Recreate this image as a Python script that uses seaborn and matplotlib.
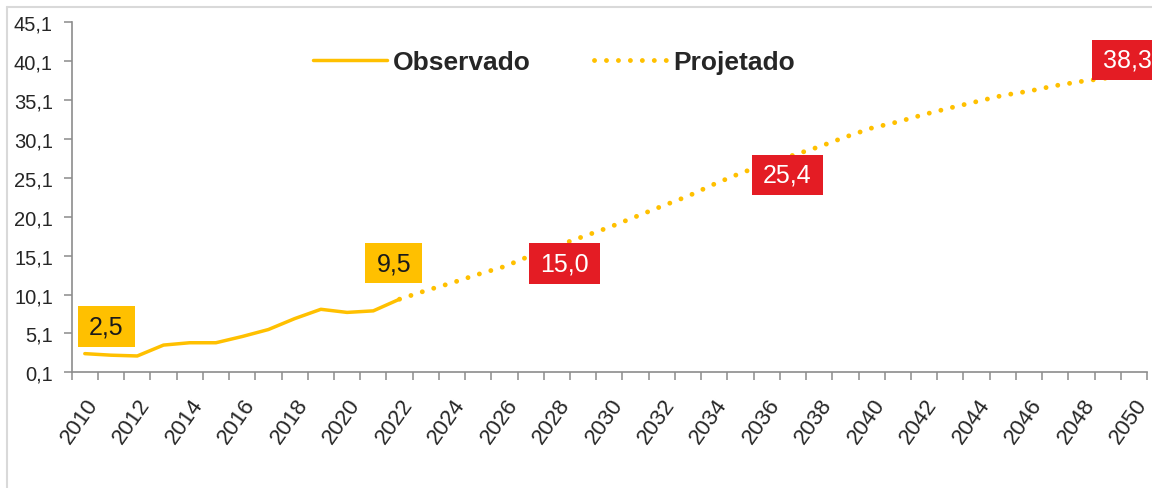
import numpy as np
import matplotlib
matplotlib.use('Agg')
import matplotlib.pyplot as plt
from matplotlib.path import Path
from matplotlib.lines import Line2D
from matplotlib.transforms import ScaledTranslation
import seaborn as sns

# observed series (2010-2022)
obs_years = list(range(2010, 2023))
obs_values = [2.5, 2.3, 2.2, 3.6, 3.9, 3.9, 4.7, 5.6, 7.0, 8.2, 7.8, 8.0, 9.5]

# projected series (2022-2050)
proj_years = list(range(2022, 2051))
proj_values = [9.5, 10.6, 11.6, 12.7, 13.7, 15.1, 16.35, 17.55, 18.75, 20.1,
               21.45, 22.75, 24.3, 25.7, 26.9, 28.0, 29.1, 30.35, 31.5, 32.3,
               33.25, 34.1, 34.9, 35.7, 36.25, 36.95, 37.5, 37.95, 38.3]

# highlighted values
label_years = [2010, 2022, 2028, 2037, 2050]
label_values = [2.5, 9.5, 15.0, 25.4, 38.3]
label_texts = ['2,5', '9,5', '15,0', '25,4', '38,3']
label_kinds = ['obs', 'obs', 'proj', 'proj', 'proj']

y_ticks = [0.1, 5.1, 10.1, 15.1, 20.1, 25.1, 30.1, 35.1, 40.1, 45.1]
x_label_years = list(range(2010, 2051, 2))

YELLOW = '#FFC000'
RED = '#E41C24'
GREY = '#8C8C8C'

# offsets (points) of the label boxes from their points
label_offsets = [(15.5, 19.5), (-4.2, 25.9), (5.3, -5.0), (-4.1, 0.4), (-4.9, 11.1)]


def label_box(x0, y0, width, height, mutation_size):
    # rectangle with more padding left/right than top/bottom, like Excel labels
    px = 0.44 * mutation_size
    py = 0.33 * mutation_size
    return Path([(x0 - px, y0 - py), (x0 + width + px, y0 - py),
                 (x0 + width + px, y0 + height + py), (x0 - px, y0 + height + py),
                 (x0 - px, y0 - py)], closed=True)


sns.set_style('white')
plt.rcParams['font.family'] = ['Liberation Sans', 'DejaVu Sans']

fig = plt.figure(figsize=(11.52, 4.89), dpi=100)
W, H = 1152, 489
ax = fig.add_axes([71.7 / W, (H - 373.3) / H, (1147 - 71.7) / W, 350 / H])

sns.lineplot(x=obs_years, y=obs_values, ax=ax, color=YELLOW, linewidth=2.5,
             label='Observado')
sns.lineplot(x=proj_years, y=proj_values, ax=ax, color=YELLOW, linewidth=3.5,
             label='Projetado')
proj_line = ax.lines[-1]
proj_line.set_linestyle((0, (0.01, 2.45)))
proj_line.set_dash_capstyle('round')

ax.set_xlim(2009.5, 2050.5)
ax.set_ylim(0.1, 45.1)

ax.set_yticks(y_ticks)
ax.set_yticklabels([f'{v:.1f}'.replace('.', ',') for v in y_ticks])
ax.set_xticks(x_label_years)
ax.set_xticklabels([str(y) for y in x_label_years])
ax.set_xticks(np.arange(2009.5, 2051, 1), minor=True)

ax.tick_params(axis='y', left=True, direction='out', length=5.5, width=1.1,
               color=GREY, labelsize=14.5, pad=8, labelcolor='#262626')
ax.tick_params(axis='x', which='major', bottom=True, length=0, labelsize=16,
               pad=20, labelcolor='#262626')
ax.tick_params(axis='x', which='minor', bottom=True, direction='out', length=5.5,
               width=1.1, color=GREY)

shift = ScaledTranslation(9 / 100, 0, fig.dpi_scale_trans)
for lab in ax.get_xticklabels():
    lab.set_rotation(55)
    lab.set_ha('right')
    lab.set_va('center')
    lab.set_rotation_mode('anchor')
    lab.set_transform(lab.get_transform() + shift)

for side in ['top', 'right']:
    ax.spines[side].set_visible(False)
for side in ['left', 'bottom']:
    ax.spines[side].set_color(GREY)
    ax.spines[side].set_linewidth(1.2)

for yr, val, txt, kind, off in zip(label_years, label_values, label_texts,
                                   label_kinds, label_offsets):
    fc = YELLOW if kind == 'obs' else RED
    tc = '#1A1A1A' if kind == 'obs' else 'white'
    ax.annotate(txt, xy=(yr, val), xytext=off, textcoords='offset points',
                ha='center', va='center', fontsize=18, color=tc, zorder=5,
                bbox=dict(boxstyle=label_box, fc=fc, ec='none'),
                annotation_clip=False)

ax.legend(loc='center', bbox_to_anchor=(554 / W, 1 - 63 / H),
          bbox_transform=fig.transFigure, ncol=2, frameon=False,
          handlelength=2.8, handletextpad=0.2, columnspacing=2.4,
          prop={'weight': 'bold', 'size': 19})

# chart area border (only top/left are visible in the crop)
fig.add_artist(Line2D([7 / W, 7 / W], [0, 1 - 8 / H], transform=fig.transFigure,
                      color='#D9D9D9', lw=1.5))
fig.add_artist(Line2D([7 / W, 1], [1 - 8 / H, 1 - 8 / H], transform=fig.transFigure,
                      color='#D9D9D9', lw=1.5))

fig.savefig('out.png', dpi=100)
